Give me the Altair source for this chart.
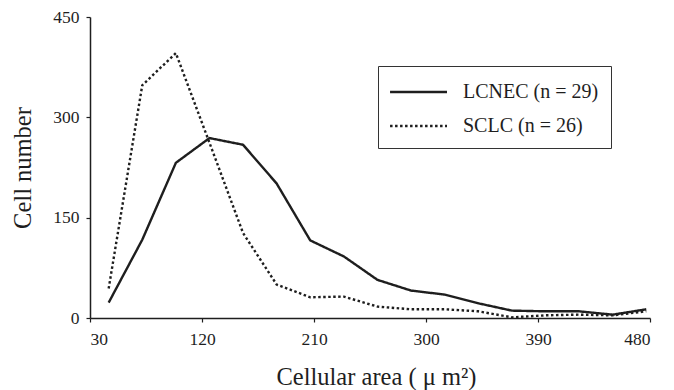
import altair as alt
import pandas as pd

# Bin centres (cellular area, µm²)
area = [45, 72, 99, 126, 153, 180, 207, 234, 261, 288, 315, 342, 369, 396, 423, 450, 477]
# Cell numbers per bin
lcnec = [23, 117, 232, 269, 259, 201, 116, 92, 57, 41, 35, 22, 11, 10, 10, 5, 13]
sclc = [44, 348, 396, 262, 127, 50, 31, 32, 17, 13, 13, 10, 1, 4, 5, 4, 10]

series_names = ["LCNEC (n = 29)", "SCLC (n = 26)"]
x_ticks = [30, 120, 210, 300, 390, 480]
y_ticks = [0, 150, 300, 450]

rows = []
for name, vals in zip(series_names, [lcnec, sclc]):
    for a, v in zip(area, vals):
        rows.append({"area": a, "count": v, "series": name})
df = pd.DataFrame(rows)

FONT = "Liberation Serif"
INK = "#1e1e1e"

chart = alt.Chart(df).mark_line(strokeWidth=2.4, color=INK, strokeCap="butt").encode(
    x=alt.X(
        "area:Q",
        scale=alt.Scale(domain=[30, 480], nice=False, zero=False),
        axis=alt.Axis(values=x_ticks, title="Cellular area ( μ m²)", labelPadding=8,
                      titlePadding=18, tickSize=4, titleX=286, titleAlign="center"),
    ),
    y=alt.Y(
        "count:Q",
        scale=alt.Scale(domain=[0, 450], nice=False),
        axis=alt.Axis(values=y_ticks, title="Cell number", labelPadding=7,
                      titlePadding=17, tickSize=4),
    ),
    strokeDash=alt.StrokeDash(
        "series:N",
        scale=alt.Scale(domain=series_names, range=[[1, 0], [2.5, 2.5]]),
        legend=alt.Legend(
            title=None,
            orient="none",
            legendX=288,
            legendY=49,
            direction="vertical",
            symbolType="M-1.09,0H3.36",
            symbolSize=655,
            symbolStrokeWidth=2.4,
            symbolStrokeColor=INK,
            labelFont=FONT,
            labelFontSize=20,
            labelColor=INK,
            labelOffset=45,
            padding=12,
            rowPadding=10,
            strokeColor="#333333",
            fillColor="white",
        ),
    ),
    order=alt.Order("area:Q"),
).properties(
    width=560,
    height=301,
    autosize=alt.AutoSizeParams(type="none"),
    padding={"left": 90, "top": 17, "right": 24, "bottom": 72},
    background="white",
).configure_view(
    stroke=None
).configure_axis(
    grid=False,
    domainColor=INK,
    domainWidth=1.5,
    tickColor=INK,
    tickWidth=1.2,
    labelFont=FONT,
    labelFontSize=17.5,
    labelColor=INK,
    titleFont=FONT,
    titleFontSize=24.5,
    titleFontWeight="normal",
    titleColor=INK,
)

chart.save("out.html", embed_options={"renderer": "svg", "actions": False})
